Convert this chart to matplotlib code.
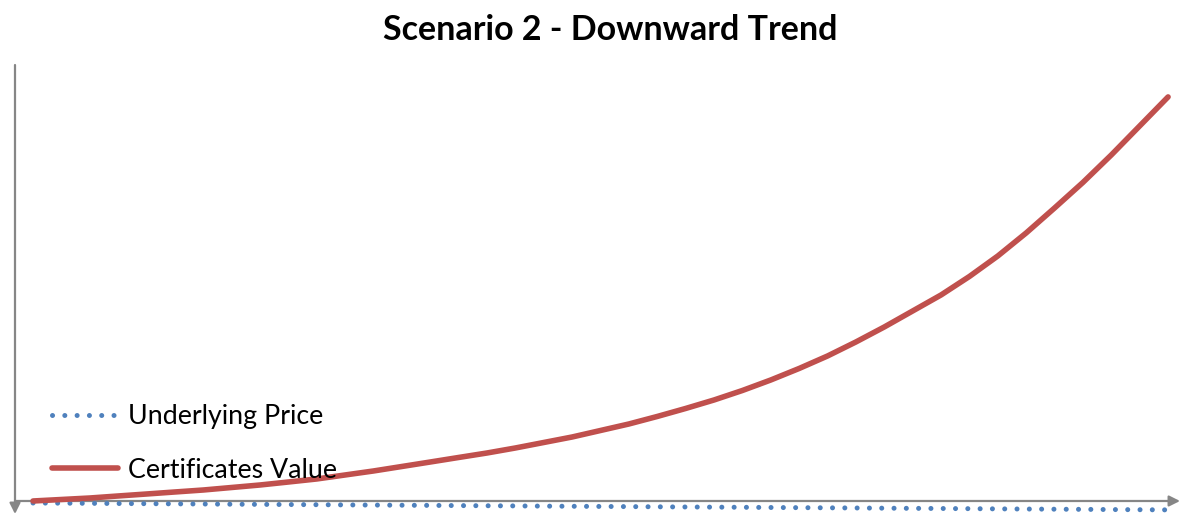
import numpy as np
import matplotlib
matplotlib.use("Agg")
from matplotlib import pyplot as plt

# data
steps = list(range(41))
underlying_price = [-0.5, -0.54, -0.58, -0.63, -0.67, -0.71, -0.75, -0.8, -0.84, -0.88,
                    -0.92, -0.97, -1.01, -1.05, -1.09, -1.14, -1.18, -1.22, -1.27, -1.31,
                    -1.35, -1.39, -1.44, -1.48, -1.52, -1.56, -1.61, -1.65, -1.69, -1.73,
                    -1.78, -1.82, -1.86, -1.9, -1.95, -1.99, -2.03, -2.07, -2.12, -2.16, -2.2]
certificates_value = [0, 0.37, 0.74, 1.24, 1.73, 2.23, 2.72, 3.34, 3.96, 4.70,
                      5.45, 6.44, 7.43, 8.54, 9.65, 10.77, 11.88, 13.12, 14.48, 15.84,
                      17.45, 19.06, 20.92, 22.90, 25.0, 27.35, 29.95, 32.80, 35.89, 39.36,
                      43.07, 47.03, 50.99, 55.57, 60.64, 66.34, 72.52, 78.84, 85.64, 92.82, 100]
series_labels = ["Underlying Price", "Certificates Value"]
title = "Scenario 2 - Downward Trend"

plt.rcParams['font.family'] = ['Lato', 'DejaVu Sans']

fig = plt.figure(figsize=(11.8, 5.14), dpi=100)
ax = fig.add_axes([15 / 1180, 0, 1165 / 1180, 449 / 514])

# lines
blue, = ax.plot(steps, underlying_price, color='#4F81BD', lw=3.6,
                dash_capstyle='round', label=series_labels[0])
blue.set_dashes([0.01, 2.45])
ax.plot(steps, certificates_value, color='#C0504D', lw=4.0,
        solid_capstyle='round', label=series_labels[1])

xmin, xmax = -0.635, 40.42
ymin, ymax = -3.22, 107.9
ax.set_xlim(xmin, xmax)
ax.set_ylim(ymin, ymax)

# remove everything, draw arrow axes by hand
for spine in ax.spines.values():
    spine.set_visible(False)
ax.set_xticks([])
ax.set_yticks([])

arrow = dict(arrowstyle='-|>', color='#868686', lw=1.6, mutation_scale=16,
             shrinkA=0, shrinkB=0)
ax.annotate('', xy=(xmin, ymin), xytext=(xmin, ymax), arrowprops=arrow,
            annotation_clip=False, zorder=1)
ax.annotate('', xy=(xmax, 0), xytext=(xmin, 0), arrowprops=arrow,
            annotation_clip=False, zorder=1)

# legend
ax.legend(loc='upper left', bbox_to_anchor=(52 / 1180, 1 - 404 / 514),
          bbox_transform=fig.transFigure, frameon=False, fontsize=19.3,
          handlelength=2.46, handletextpad=0.37, labelspacing=1.07,
          borderpad=0, borderaxespad=0)

fig.text(0.517, 1 - 30 / 514, title, ha='center', va='center',
         fontsize=24.5, fontweight='bold')

fig.savefig("out.png", dpi=100)
